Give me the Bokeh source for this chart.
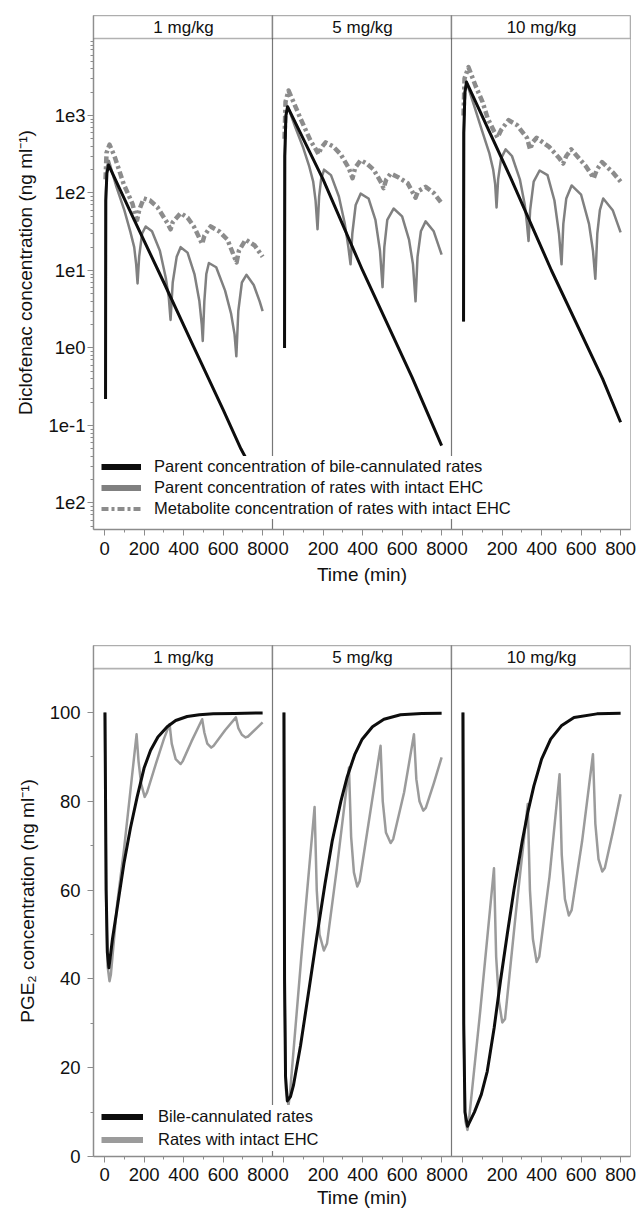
from bokeh.plotting import figure
from bokeh.models import (Range1d, FixedTicker, Span, BoxAnnotation, Label,
                          Legend, LegendItem)
from bokeh.layouts import column
from bokeh.embed import file_html
from bokeh.resources import INLINE

NAN = float("nan")

# ---------------- data ----------------
doses = ["1 mg/kg", "5 mg/kg", "10 mg/kg"]
x_ticks = [0, 200, 400, 600, 800]
x_minor = [100, 300, 500, 700]

# panel a: diclofenac (log scale), one list per dose
a_black_t = [
    [5, 6, 12, 20, 150, 300, 450, 600, 690, 800],
    [5, 6, 12, 20, 200, 400, 650, 800],
    [5, 6, 12, 20, 243, 450, 709, 800],
]
a_black_v = [
    [0.22, 80, 180, 230, 45, 7.0, 1.05, 0.16, 0.05, 0.015],
    [1.0, 300, 1000, 1300, 150, 10, 0.42, 0.055],
    [2.2, 600, 2000, 2700, 158, 10, 0.40, 0.11],
]
a_gray_t = [
    [5, 7, 12, 22, 60, 100, 130, 150, 160, 167, 175, 190, 208, 240, 280, 310, 325, 334,
     345, 365, 385, 420, 455, 480, 492, 497, 505, 515, 528, 565, 610, 640, 658, 667,
     677, 695, 718, 755, 785, 800],
    [5, 7, 12, 22, 60, 100, 130, 150, 162, 172, 180, 190, 205, 240, 280, 310, 328, 339,
     348, 365, 390, 430, 465, 488, 501, 510, 525, 557, 600, 635, 655, 668, 678, 695,
     719, 760, 800],
    [5, 7, 12, 20, 60, 100, 135, 155, 165, 172, 180, 195, 218, 250, 290, 315, 326, 334,
     342, 360, 390, 430, 465, 488, 501, 510, 525, 552, 600, 640, 660, 672, 682, 695,
     712, 760, 800],
]
a_gray_v = [
    [0.22, 100, 220, 260, 120, 60, 32, 20, 12, 6.8, 15, 30, 37, 32, 18, 8, 4.5, 2.3,
     7, 15, 20, 17, 9, 4, 2.0, 1.23, 4, 9, 12.5, 11, 5.5, 2.8, 1.5, 0.78,
     3, 7, 8.8, 6.5, 4, 3.0],
    [1.0, 300, 1000, 1300, 700, 380, 220, 140, 80, 34, 90, 150, 200, 170, 90, 40, 20, 12,
     30, 70, 98, 85, 45, 18, 6.1, 20, 45, 63, 50, 25, 12, 4.0, 15, 32,
     43, 32, 16],
    [2.2, 600, 2000, 2700, 1300, 620, 330, 200, 130, 65, 150, 280, 365, 300, 150, 70, 40, 24,
     60, 140, 195, 170, 80, 30, 12, 40, 85, 125, 95, 40, 18, 7.8, 30, 60,
     85, 60, 31],
]
a_met_t = [
    [5, 10, 25, 50, 97, 141, 157, 165, 175, 198, 230, 267, 318, 334, 345, 385, 420, 452,
     494, 505, 537, 580, 622, 668, 680, 714, 760, 800],
    [5, 10, 25, 50, 86, 137, 165, 177, 190, 213, 250, 289, 330, 349, 362, 390, 420, 456,
     495, 506, 520, 542, 580, 628, 668, 680, 719, 760, 800],
    [5, 10, 30, 66, 101, 127, 160, 177, 195, 233, 276, 326, 342, 355, 375, 440, 490, 509,
     525, 550, 625, 664, 680, 706, 760, 800],
]
a_met_v = [
    [150, 330, 420, 300, 130, 73, 50, 45, 60, 85, 80, 66, 41, 34, 42, 55, 48, 37,
     22, 28, 37, 32, 25, 12.7, 18, 25, 21, 15],
    [500, 1500, 2100, 1500, 910, 470, 360, 316, 380, 450, 400, 316, 210, 155, 210, 265, 240, 200,
     135, 115, 150, 178, 160, 134, 87, 105, 120, 100, 74],
    [1000, 3000, 4200, 2400, 1500, 920, 620, 520, 650, 870, 750, 515, 365, 450, 515, 390, 280, 240,
     300, 365, 220, 155, 200, 250, 185, 140],
]
a_y_ticks = [0.01, 0.1, 1, 10, 100, 1000]
a_y_labels = ["1e2", "1e-1", "1e0", "1e1", "1e2", "1e3"]

# panel b: PGE2 (linear scale)
b_black_t = [
    [2, 8, 14, 22, 40, 64, 98, 131, 165, 200, 233, 270, 317, 360, 418, 480, 550, 655, 800],
    [2, 5, 10, 19, 35, 50, 86, 130, 170, 210, 246, 290, 322, 360, 398, 450, 508, 592, 700, 800],
    [2, 6, 12, 25, 60, 95, 125, 160, 192, 226, 260, 302, 330, 361, 400, 446, 500, 564, 680, 800],
]
b_black_v = [
    [100, 60, 46, 42.5, 49, 56, 66, 74, 81, 87.5, 91.5, 94.5, 96.8, 98.2, 99.1, 99.5, 99.7, 99.8, 99.9],
    [100, 40, 18, 12.5, 13.5, 16, 25, 38, 50, 61.5, 71, 80, 85.5, 90.5, 94, 96.8, 98.5, 99.5, 99.8, 99.85],
    [100, 30, 10, 6.8, 10, 14, 19.2, 29, 39.6, 50, 60, 71, 77.5, 83.5, 89.5, 94, 97, 98.9, 99.7, 99.85],
]
b_gray_t = [
    [2, 8, 15, 25, 32, 64, 98, 130, 162, 172, 185, 203, 215, 260, 300, 329, 340, 360, 385,
     395, 440, 494, 505, 520, 540, 552, 610, 665, 677, 695, 714, 726, 770, 800],
    [2, 5, 12, 25, 32, 90, 157, 168, 182, 204, 220, 270, 331, 342, 356, 373, 385, 430, 491,
     502, 518, 542, 555, 610, 660, 672, 688, 707, 720, 760, 800],
    [2, 6, 14, 25, 32, 90, 159, 170, 184, 201, 215, 270, 330, 341, 356, 375, 388, 440, 491,
     502, 518, 538, 552, 605, 660, 672, 688, 707, 720, 760, 800],
]
b_gray_v = [
    [100, 58, 43, 39.5, 41, 57, 69, 82, 95.1, 89, 84, 81, 82, 88.5, 94, 97.4, 93, 89.5, 88.4,
     89, 93.5, 98.5, 95.5, 93, 92.1, 92.5, 96, 98.9, 96.5, 95, 94.4, 94.6, 96.5, 97.8],
    [100, 38, 15, 11.5, 14, 45, 78.7, 60, 50, 46.4, 48, 65, 87.6, 72, 64, 60.8, 62, 75, 92.5,
     80, 73, 70.6, 71.5, 82, 95.1, 85, 80, 77.9, 78.5, 84, 89.9],
    [100, 28, 8, 6.0, 8, 33, 64.9, 45, 35, 30.2, 31, 55, 79.4, 60, 49, 43.8, 45, 63, 86.1,
     68, 58, 54.3, 55.5, 71, 90.6, 75, 67, 64.2, 65, 73, 81.6],
]
b_y_ticks = [0, 20, 40, 60, 80, 100]
b_y_minor = [10, 30, 50, 70, 90]

# ---------------- layout / style ----------------
FONT = "Liberation Sans"
X0 = -56          # panel x start (min)
PW = 906          # panel width in data units
BLACK = "#0d0d0d"
GRAY_A = "#808080"
GRAY_MET = "#8c8c8c"
GRAY_B = "#9b9b9b"
AXIS_GRAY = "#8c8c8c"
MET_DASH = "7 3 3 3"


def base_figure(height, top, bottom, y_range, y_type, lab_standoff, axlab_standoff):
    p = figure(width=637, height=height, x_range=Range1d(X0, X0 + 3 * PW),
               y_range=y_range, y_axis_type=y_type, output_backend="svg",
               toolbar_location=None, min_border_left=93, min_border_right=7,
               min_border_top=top, min_border_bottom=bottom)
    p.extra_x_ranges = {f"p{k}": Range1d(X0 - k * PW, X0 + 3 * PW - k * PW) for k in range(3)}
    p.xgrid.visible = False
    p.ygrid.visible = False
    p.outline_line_color = "#bbbbbb"
    p.background_fill_color = "white"
    p.border_fill_color = "white"
    ticks = [t + k * PW for k in range(3) for t in x_ticks]
    minor = [t + k * PW for k in range(3) for t in x_minor]
    xa = p.xaxis[0]
    xa.ticker = FixedTicker(ticks=ticks, minor_ticks=minor)
    xa.major_label_overrides = {t + k * PW: str(t) for k in range(3) for t in x_ticks}
    for ax in (p.xaxis[0], p.yaxis[0]):
        ax.axis_line_color = AXIS_GRAY
        ax.axis_line_width = 1.5
        ax.major_tick_line_color = AXIS_GRAY
        ax.minor_tick_line_color = AXIS_GRAY
        ax.major_tick_out = 6
        ax.major_tick_in = 0
        ax.minor_tick_out = 3
        ax.minor_tick_in = 0
        ax.major_label_text_font = FONT
        ax.major_label_text_font_size = "18.5px"
        ax.major_label_text_color = "#111111"
        ax.axis_label_text_font = FONT
        ax.axis_label_text_font_size = "19px"
        ax.axis_label_text_font_style = "normal"
        ax.axis_label_text_color = "#111111"
    xa.axis_label = "Time (min)"
    xa.major_label_standoff = lab_standoff
    xa.axis_label_standoff = axlab_standoff
    for k in (1, 2):
        p.add_layout(Span(location=X0 + k * PW, dimension="height", line_color="#777777",
                          line_width=1.2, level="underlay"))
    return p


def add_strips(p, strip_bottom, strip_mid):
    for k in range(3):
        p.add_layout(BoxAnnotation(left=X0 + k * PW, right=X0 + (k + 1) * PW,
                                   bottom=strip_bottom, fill_color="white", fill_alpha=1.0,
                                   line_color="black", line_width=1.6))
        p.add_layout(Label(x=400, y=strip_mid, x_range_name=f"p{k}", text=doses[k],
                           text_align="center", text_baseline="middle",
                           text_font=FONT, text_font_size="17px", text_color="#111111"))


# ---------- panel a ----------
ya_lo, ya_hi, ya_strip = 10 ** -2.342, 10 ** 4.29, 10 ** 3.993
pa = base_figure(615, 15, 86, Range1d(ya_lo, ya_hi), "log", 6, 6)
ya = pa.yaxis[0]
ya.ticker = FixedTicker(ticks=a_y_ticks,
                        minor_ticks=[m * 10.0 ** e for e in range(-3, 4) for m in range(2, 10)])
ya.major_label_overrides = dict(zip(a_y_ticks, a_y_labels))
ya.major_label_standoff = 2
ya.axis_label_standoff = 9
ya.axis_label = "Diclofenac concentration (ng ml\u207b\u00b9)"

for k in range(3):
    pa.line(a_met_t[k], a_met_v[k], x_range_name=f"p{k}", line_color=GRAY_MET,
            line_width=4.5, line_dash=MET_DASH, line_join="round")
    pa.line(a_gray_t[k], a_gray_v[k], x_range_name=f"p{k}", line_color=GRAY_A,
            line_width=2.5, line_join="round")
    pa.line(a_black_t[k], a_black_v[k], x_range_name=f"p{k}", line_color=BLACK,
            line_width=3, line_join="round")

add_strips(pa, ya_strip, 10 ** ((3.993 + 4.29) / 2))

# legend-only proxies (NaN => nothing drawn in the plot area)
la1 = pa.line([NAN], [NAN], line_color=BLACK, line_width=6)
la2 = pa.line([NAN], [NAN], line_color=GRAY_A, line_width=6)
la3 = pa.line([NAN], [NAN], line_color=GRAY_MET, line_width=4, line_dash=MET_DASH)
leg_a = Legend(items=[
    LegendItem(label="Parent concentration of bile-cannulated rates", renderers=[la1]),
    LegendItem(label="Parent concentration of rates with intact EHC", renderers=[la2]),
    LegendItem(label="Metabolite concentration of rates with intact EHC", renderers=[la3]),
], location=(8, 10), padding=4, spacing=0, label_height=21, glyph_height=21,
    glyph_width=40, label_standoff=13, border_line_color=None,
    background_fill_color="white", background_fill_alpha=1.0,
    label_text_font=FONT, label_text_font_size="16.5px", label_text_color="#111111")
pa.add_layout(leg_a, "center")
pa.add_layout(Label(x=-81, y=497, x_units="screen", y_units="screen", text="a",
                    text_font=FONT, text_font_size="22px", text_font_style="bold",
                    text_baseline="alphabetic", text_align="left"))

# ---------- panel b ----------
yb_hi, yb_strip = 115.1, 109.9
pb = base_figure(599, 30, 58, Range1d(0, yb_hi), "linear", 5, 3)
yb = pb.yaxis[0]
yb.ticker = FixedTicker(ticks=b_y_ticks, minor_ticks=b_y_minor)
yb.major_label_standoff = 7
yb.axis_label_standoff = 9
yb.axis_label = "PGE\u2082 concentration (ng ml\u207b\u00b9)"

for k in range(3):
    pb.line(b_gray_t[k], b_gray_v[k], x_range_name=f"p{k}", line_color=GRAY_B,
            line_width=2.5, line_join="round")
    pb.line(b_black_t[k], b_black_v[k], x_range_name=f"p{k}", line_color=BLACK,
            line_width=3, line_join="round")

add_strips(pb, yb_strip, (yb_strip + yb_hi) / 2)

lb1 = pb.line([NAN], [NAN], line_color=BLACK, line_width=6)
lb2 = pb.line([NAN], [NAN], line_color=GRAY_B, line_width=6)
leg_b = Legend(items=[
    LegendItem(label="Bile-cannulated rates", renderers=[lb1]),
    LegendItem(label="Rates with intact EHC", renderers=[lb2]),
], location=(8, 5), padding=2, spacing=0, label_height=23, glyph_height=23,
    glyph_width=42, label_standoff=15, border_line_color=None,
    background_fill_color="white", background_fill_alpha=1.0,
    label_text_font=FONT, label_text_font_size="16.5px", label_text_color="#111111")
pb.add_layout(leg_b, "center")
pb.add_layout(Label(x=-81, y=486, x_units="screen", y_units="screen", text="b",
                    text_font=FONT, text_font_size="22px", text_font_style="bold",
                    text_baseline="alphabetic", text_align="left"))

layout = column(pa, pb)
open("out.html", "w").write(file_html(layout, INLINE))
